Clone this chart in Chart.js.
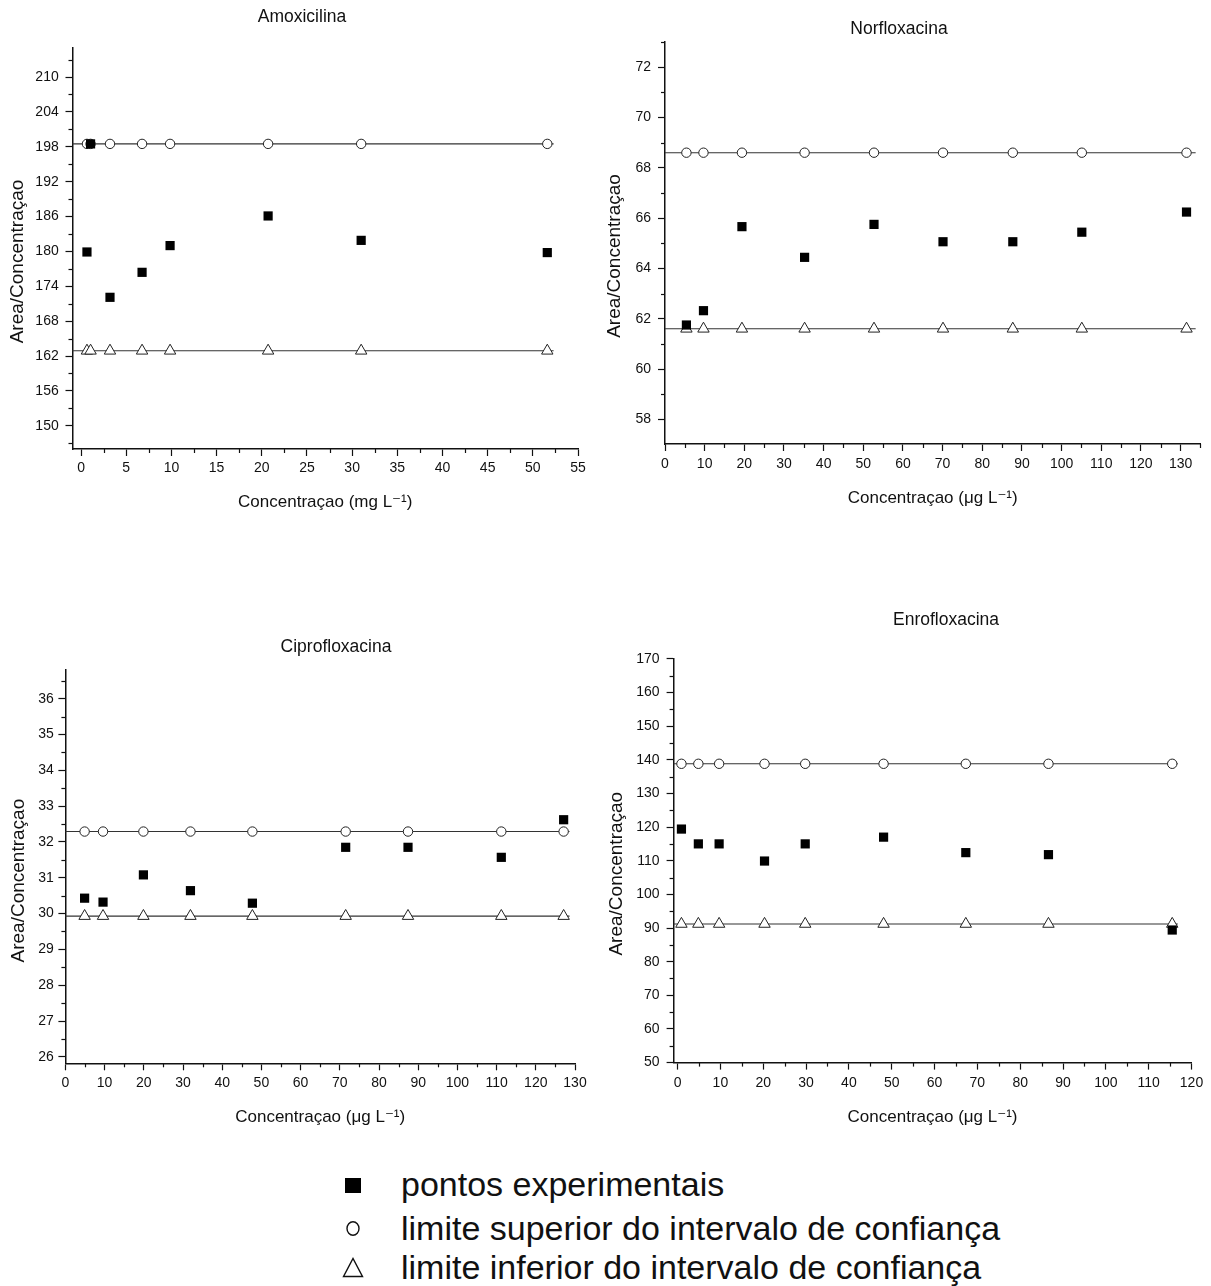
<!DOCTYPE html>
<html>
<head>
<meta charset="utf-8">
<script src="https://cdn.jsdelivr.net/npm/chart.js@4.4.0/dist/chart.umd.min.js"></script>
<style>
  html, body { margin: 0; padding: 0; background: #fff; overflow: hidden; width: 1211px; height: 1286px; }
  canvas { position: absolute; }
  .leg { position: absolute; left: 401px; font: 34px "Liberation Sans", Arial, sans-serif; line-height: 34px; color: #111; white-space: nowrap; }
  .mk { position: absolute; }
</style>
</head>
<body>
<canvas id="amox" width="604" height="520" style="left:0;top:0"></canvas>
<canvas id="norflox" width="618" height="520" style="left:590px;top:0"></canvas>
<canvas id="cipro" width="600" height="520" style="left:0;top:620px"></canvas>
<canvas id="enro" width="611" height="530" style="left:600px;top:600px"></canvas>

<svg class="mk" style="left:340px;top:1170px" width="30" height="120">
  <rect x="5" y="8" width="16" height="15" fill="#000"/>
  <ellipse cx="13" cy="58.5" rx="6" ry="6.8" fill="#fff" stroke="#111" stroke-width="1.4"/>
  <polygon points="3.5,106.5 13,88.5 22.5,106.5" fill="#fff" stroke="#111" stroke-width="1.4"/>
</svg>
<div class="leg" style="top:1167px">pontos experimentais</div>
<div class="leg" style="top:1211px">limite superior do intervalo de confiança</div>
<div class="leg" style="top:1249.5px">limite inferior do intervalo de confiança</div>

<script>
// ---------------- Data ----------------
// Amoxicilina (mg/L)
const amoxConc = [0.65, 1.05, 3.2, 6.75, 9.85, 20.7, 31.0, 51.6];
const amoxPoints = [179.9, 198.5, 172.1, 176.4, 181.0, 186.1, 181.9, 179.8];
const amoxUpper = [198.5, 198.5, 198.5, 198.5, 198.5, 198.5, 198.5, 198.5];
const amoxLower = [162.9, 162.9, 162.9, 162.9, 162.9, 162.9, 162.9, 162.9];
const amoxLineX = [-0.95, 52.3];

// Norfloxacina (ug/L)
const norConc = [5.4, 9.7, 19.4, 35.2, 52.7, 70.1, 87.7, 105.1, 131.5];
const norPoints = [61.75, 62.32, 65.66, 64.44, 65.75, 65.06, 65.06, 65.44, 66.24];
const norUpper = [68.6, 68.6, 68.6, 68.6, 68.6, 68.6, 68.6, 68.6, 68.6];
const norLower = [61.6, 61.6, 61.6, 61.6, 61.6, 61.6, 61.6, 61.6, 61.6];
const norLineX = [0, 133.8];

// Ciprofloxacina (ug/L)
const ciproConc = [4.9, 9.6, 19.9, 31.9, 47.7, 71.5, 87.4, 111.2, 127.1];
const ciproPoints = [30.43, 30.32, 31.08, 30.64, 30.29, 31.85, 31.85, 31.57, 32.62];
const ciproUpper = [32.29, 32.29, 32.29, 32.29, 32.29, 32.29, 32.29, 32.29, 32.29];
const ciproLower = [29.93, 29.93, 29.93, 29.93, 29.93, 29.93, 29.93, 29.93, 29.93];
const ciproLineX = [0, 128.6];

// Enrofloxacina (ug/L)
const enroConc = [0.9, 4.85, 9.7, 20.3, 29.8, 48.1, 67.3, 86.6, 115.5];
const enroPoints = [119.4, 115.0, 115.0, 109.9, 115.0, 117.0, 112.4, 111.8, 89.4];
const enroUpper = [138.8, 138.8, 138.8, 138.8, 138.8, 138.8, 138.8, 138.8, 138.8];
const enroLower = [91.2, 91.2, 91.2, 91.2, 91.2, 91.2, 91.2, 91.2, 91.2];
const enroLineX = [-0.93, 116.8];

const yLabel = "Area/Concentraçao";
const xLabelMg = "Concentraçao (mg L⁻¹)";
const xLabelUg = "Concentraçao (μg L⁻¹)";

const FONT = "'Liberation Sans', Arial, 'DejaVu Sans', sans-serif";
Chart.defaults.font.family = FONT;
Chart.defaults.color = "#111";

// ---------------- Minor ticks ----------------
const minorTicks = {
  id: "minorTicks",
  afterDraw(chart, args, opts) {
    const ctx = chart.ctx;
    ctx.save();
    ctx.strokeStyle = "#111";
    ctx.lineWidth = 1.2;
    ["x", "y"].forEach((id) => {
      const s = chart.scales[id];
      const step = opts[id][1];
      const ratio = Math.round(opts[id][0] / step);
      const i0 = Math.ceil(s.min / step - 1e-9);
      const i1 = Math.floor(s.max / step + 1e-9);
      for (let i = i0; i <= i1; i++) {
        if (i % ratio === 0) continue;
        const p = Math.round(s.getPixelForValue(i * step)) + 0.5;
        ctx.beginPath();
        if (id === "x") {
          ctx.moveTo(p, s.top);
          ctx.lineTo(p, s.top + 4);
        } else {
          ctx.moveTo(s.right, p);
          ctx.lineTo(s.right - 4, p);
        }
        ctx.stroke();
      }
    });
    ctx.restore();
  },
};

// panel title over the plot and rotated y-axis title beside it
const panelText = {
  id: "panelText",
  afterDraw(chart, args, o) {
    const { ctx, chartArea } = chart;
    ctx.save();
    ctx.fillStyle = "#111";
    ctx.textAlign = "center";
    ctx.textBaseline = "middle";
    ctx.font = "17.5px " + FONT;
    ctx.fillText(o.title, o.titleX, o.titleY);
    ctx.translate(o.yTitleX, (chartArea.top + chartArea.bottom) / 2 + o.yShift);
    ctx.rotate(-Math.PI / 2);
    ctx.font = "19px " + FONT;
    ctx.fillText(yLabel, 0, 0);
    ctx.restore();
  },
};

function pts(xs, ys) {
  return xs.map((x, i) => ({ x, y: ys[i] }));
}

function axis(min, max, step, g, horizontal) {
  return {
    type: "linear",
    min, max,
    grid: { display: true, drawOnChartArea: false, drawTicks: true, tickLength: 7, tickColor: "#111", tickWidth: 1.2 },
    border: { display: true, color: "#111", width: 1.5 },
    ticks: {
      stepSize: step, includeBounds: false, autoSkip: false, maxRotation: 0,
      padding: g.tickPad, font: { size: 14 }, color: "#111",
    },
    title: {
      display: horizontal, text: g.label, font: { size: 17 }, color: "#111",
      padding: { top: 0, bottom: g.titlePad || 0 },
    },
    afterFit(s) {
      if (horizontal) s.height = g.size; else s.width = g.size;
    },
  };
}

function makePanel(id, p) {
  new Chart(document.getElementById(id), {
    type: "scatter",
    data: {
      datasets: [
        { data: pts(p.conc, p.points), pointStyle: "rect", pointRadius: 6.5, backgroundColor: "#000", borderWidth: 0, order: 1 },
        { data: pts(p.conc, p.upper), pointStyle: "circle", pointRadius: 4.7, backgroundColor: "#fff", borderColor: "#222", borderWidth: 1, order: 2 },
        { data: pts(p.conc, p.lower), pointStyle: "triangle", pointRadius: 6.6, backgroundColor: "#fff", borderColor: "#222", borderWidth: 1, order: 2 },
        { data: pts(p.lineX, [p.upper[0], p.upper[0]]), showLine: true, pointRadius: 0, borderColor: "#333", borderWidth: 1.1, order: 3 },
        { data: pts(p.lineX, [p.lower[0], p.lower[0]]), showLine: true, pointRadius: 0, borderColor: "#333", borderWidth: 1.1, order: 3 },
      ],
    },
    options: {
      responsive: false,
      animation: false,
      events: [],
      clip: false,
      layout: { padding: { left: 0, top: p.top, bottom: 0, right: p.padRight } },
      plugins: {
        legend: { display: false },
        tooltip: { enabled: false },
        title: { display: false },
        minorTicks: { x: [p.x[2], p.x[3]], y: [p.y[2], p.y[3]] },
        panelText: p.text,
      },
      scales: {
        x: axis(p.x[0], p.x[1], p.x[2], p.xg, true),
        y: axis(p.y[0], p.y[1], p.y[2], p.yg, false),
      },
    },
    plugins: [minorTicks, panelText],
  });
}

makePanel("amox", {
  conc: amoxConc, points: amoxPoints, upper: amoxUpper, lower: amoxLower, lineX: amoxLineX,
  x: [-0.95, 55, 5, 2.5], y: [146, 215, 6, 3],
  top: 48, padRight: 26,
  text: { title: "Amoxicilina", titleX: 302, titleY: 17, yTitleX: 17.3, yShift: 13 },
  xg: { label: xLabelMg, size: 71, titlePad: 7.8, tickPad: 3.6 },
  yg: { size: 72.5, tickPad: 6.8 },
});

makePanel("norflox", {
  conc: norConc, points: norPoints, upper: norUpper, lower: norLower, lineX: norLineX,
  x: [0, 135, 10, 5], y: [57.02, 73, 2, 1],
  top: 42, padRight: 0,
  text: { title: "Norfloxacina", titleX: 309, titleY: 29, yTitleX: 24.7, yShift: 13 },
  xg: { label: xLabelUg, size: 76, titlePad: 11.8, tickPad: 4.6 },
  yg: { size: 75, tickPad: 7 },
});

makePanel("cipro", {
  conc: ciproConc, points: ciproPoints, upper: ciproUpper, lower: ciproLower, lineX: ciproLineX,
  x: [0, 130, 10, 5], y: [25.82, 36.8, 1, 0.5],
  top: 50, padRight: 25,
  text: { title: "Ciprofloxacina", titleX: 336, titleY: 27, yTitleX: 18.3, yShift: 14 },
  xg: { label: xLabelUg, size: 76.7, titlePad: 12.8, tickPad: 4.3 },
  yg: { size: 65.4, tickPad: 4.6 },
});

makePanel("enro", {
  conc: enroConc, points: enroPoints, upper: enroUpper, lower: enroLower, lineX: enroLineX,
  x: [-0.93, 120, 10, 5], y: [50, 170, 10, 5],
  top: 58.8, padRight: 19.5,
  text: { title: "Enrofloxacina", titleX: 346, titleY: 20.4, yTitleX: 17, yShift: 13 },
  xg: { label: xLabelUg, size: 67.4, titlePad: 2.8, tickPad: 5 },
  yg: { size: 73.6, tickPad: 7 },
});
</script>
</body>
</html>
